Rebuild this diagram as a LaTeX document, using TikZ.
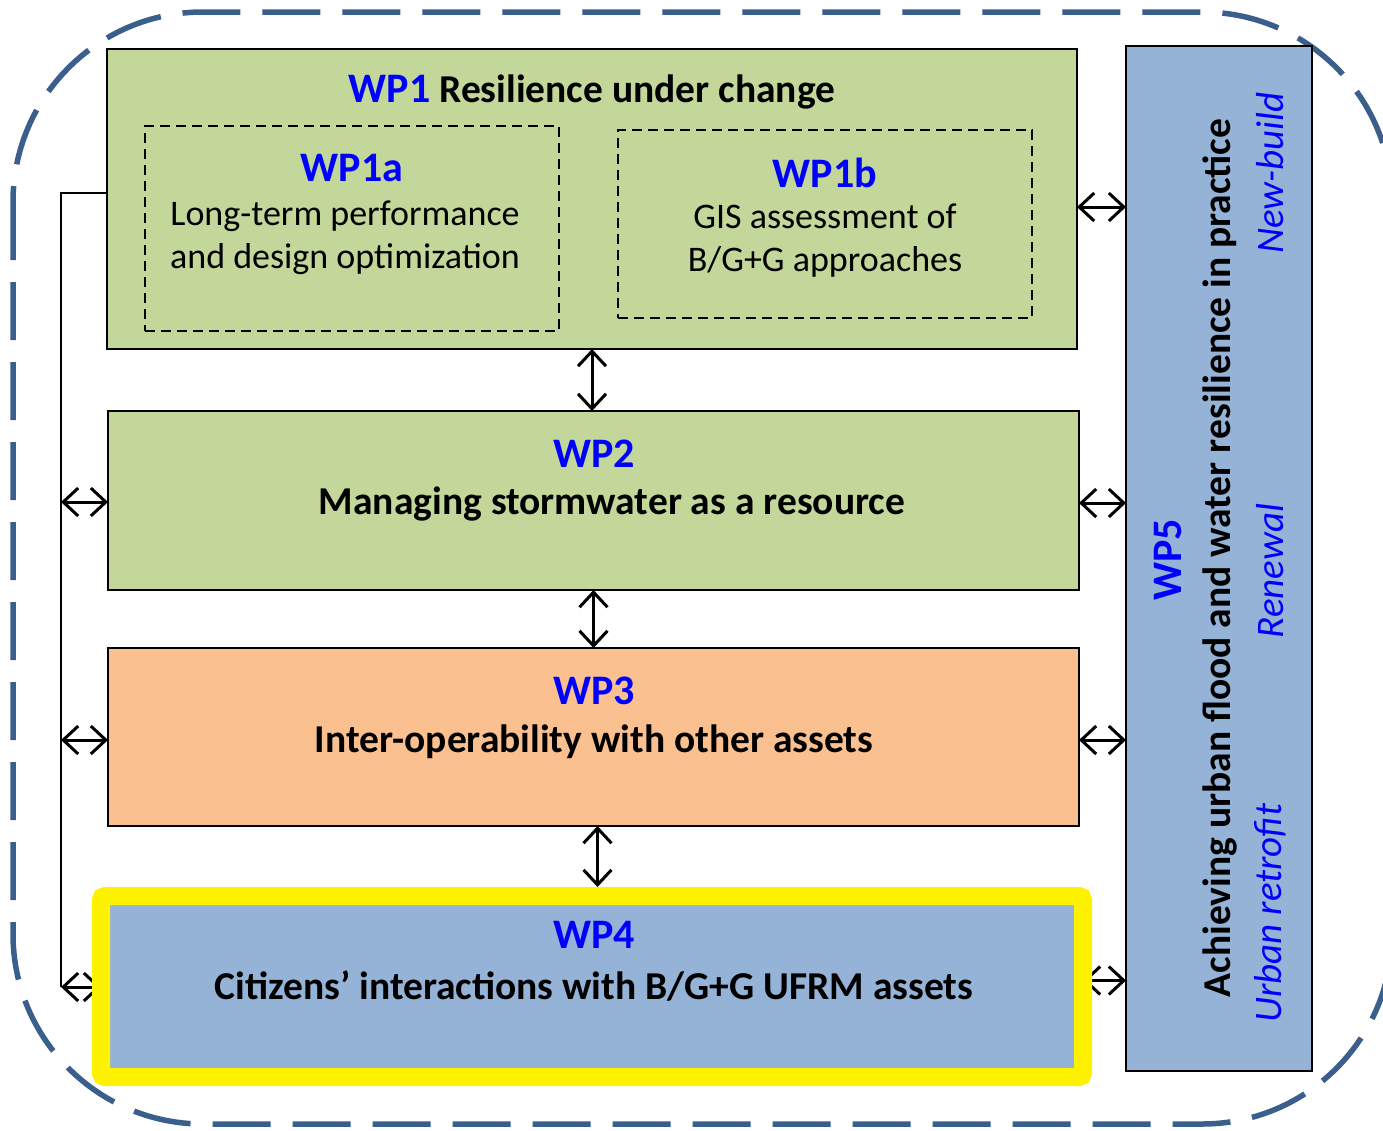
\documentclass[tikz,border=0pt]{standalone}
\usepackage{fontspec}
\setmainfont{Carlito}
\usetikzlibrary{arrows.meta,calc}
\definecolor{outerblue}{HTML}{3A5F8C}
\definecolor{wpgreen}{HTML}{C4D79B}
\definecolor{wporange}{HTML}{FAC090}
\definecolor{wpblue}{HTML}{95B3D7}
\definecolor{wptext}{HTML}{0000FF}
\pgfdeclarelayer{bg}
\pgfsetlayers{bg,main}
\tikzset{
  box/.style={draw=black, line width=2.5pt, anchor=north west, inner sep=0pt, outer sep=0pt},
  subbox/.style={draw=black, line width=2.5pt, dash pattern=on 10pt off 6pt, anchor=north west, inner sep=0pt, outer sep=0pt},
  wplab/.style={text=wptext, font=\fontsize{42}{48}\selectfont\bfseries, inner sep=0pt},
  maintxt/.style={font=\fontsize{39.5}{46}\selectfont\bfseries, inner sep=0pt},
  subtxt/.style={font=\fontsize{36}{43}\selectfont, align=center, inner sep=0pt},
  sidetxt/.style={text=wptext, font=\fontsize{39}{46}\selectfont\itshape, inner sep=0pt, rotate=90},
  dbl/.style={line width=3pt, {Straight Barb[length=15pt,width=28pt]}-{Straight Barb[length=15pt,width=28pt]}},
  bus/.style={line width=2pt}
}
\begin{document}
\begin{tikzpicture}[x=1pt,y=-1pt]
\clip (0,0) rectangle (1383,1130);
\begin{pgfonlayer}{bg}
\fill[white] (0,0) rectangle (1383,1130);
\end{pgfonlayer}
% outer dashed frame
\draw[outerblue, line width=5.5pt, dash pattern=on 58pt off 22pt, rounded corners=190pt] (13,12) rectangle (1392,1124);

% boxes
\node[box, fill=wpgreen, minimum width=970pt, minimum height=300pt] (wp1) at (107,49) {};
\node[subbox, minimum width=414pt, minimum height=205pt] (wp1a) at (145,126) {};
\node[subbox, minimum width=414pt, minimum height=188pt] (wp1b) at (618,130) {};
\node[box, fill=wpgreen, minimum width=971pt, minimum height=179pt] (wp2) at (108,411) {};
\node[box, fill=wporange, minimum width=971pt, minimum height=178pt] (wp3) at (108,648) {};
\node[draw=yellow, fill=wpblue, line width=18pt, rounded corners=4pt, anchor=north west, inner sep=0pt, outer sep=0pt, minimum width=982pt, minimum height=181pt] (wp4) at (101,896) {};
\node[box, fill=wpblue, minimum width=186pt, minimum height=1025pt] (wp5) at (1126,46) {};

% texts
\node[inner sep=0pt] (t1) at (592,92) {\fontsize{39.5}{46}\selectfont\bfseries\textcolor{wptext}{\fontsize{42}{48}\selectfont WP1} Resilience under change};
\node[wplab] (t1a) at (352,168) {WP1a};
\node[subtxt] (t1at) at (345,238) {Long-term performance\\and design optimization};
\node[wplab] (t1b) at (825,173) {WP1b};
\node[subtxt] (t1bt) at (825,241) {GIS assessment of\\B/G+G approaches};
\node[wplab] (t2) at (594,454) {WP2};
\node[maintxt] (t2t) at (612,504) {Managing stormwater as a resource};
\node[wplab] (t3) at (594,691) {WP3};
\node[maintxt] (t3t) at (594,742) {Inter-operability with other assets};
\node[wplab] (t4) at (594,935) {WP4};
\node[maintxt] (t4t) at (594,986) {Citizens’ interactions with B/G+G UFRM assets};
\node[wplab, rotate=90] (t5) at (1168,560) {WP5};
\node[maintxt, rotate=90] (t5t) at (1220,558) {Achieving urban flood and water resilience in practice};
\node[sidetxt] (s1) at (1270,173) {New-build};
\node[sidetxt] (s2) at (1270,571) {Renewal};
\node[sidetxt] (s3) at (1270,913) {Urban retrofit};

% vertical connectors
\draw[dbl] (wp1.south) -- (wp1.south |- wp2.north);
\draw[dbl] (wp2.south) -- (wp2.south |- wp3.north);
\coordinate (v3) at ($(wp3.south)+(4,0)$);
\begin{pgfonlayer}{bg}
\draw[dbl, shorten >=9pt] (v3) -- (v3 |- wp4.north);
\end{pgfonlayer}

% right connectors
\coordinate (r1) at ($(wp1.east)+(0,8)$);
\draw[dbl] (r1) -- (r1 -| wp5.west);
\coordinate (r2) at ($(wp2.east)+(0,2.5)$);
\draw[dbl] (r2) -- (r2 -| wp5.west);
\coordinate (r3) at ($(wp3.east)+(0,3)$);
\draw[dbl] (r3) -- (r3 -| wp5.west);
\coordinate (r4) at ($(wp4.east)+(0,-6)$);
\begin{pgfonlayer}{bg}
\draw[dbl] (r4) -- (r4 -| wp5.west);
\end{pgfonlayer}

% left bus
\coordinate (b1) at ($(wp1.west)+(0,-6)$);
\coordinate (bx) at ($(b1)+(-46,0)$);
\coordinate (l2) at ($(wp2.west)+(0,1.5)$);
\coordinate (l3) at ($(wp3.west)+(0,3)$);
\coordinate (l4) at ($(wp4.west)+(0,0.5)$);
\begin{pgfonlayer}{bg}
\draw[bus] (b1) -- (bx) -- (bx |- l4);
\draw[dbl] (bx |- l4) -- (l4);
\end{pgfonlayer}
\draw[dbl] (bx |- l2) -- (l2);
\draw[dbl] (bx |- l3) -- (l3);
\end{tikzpicture}
\end{document}
